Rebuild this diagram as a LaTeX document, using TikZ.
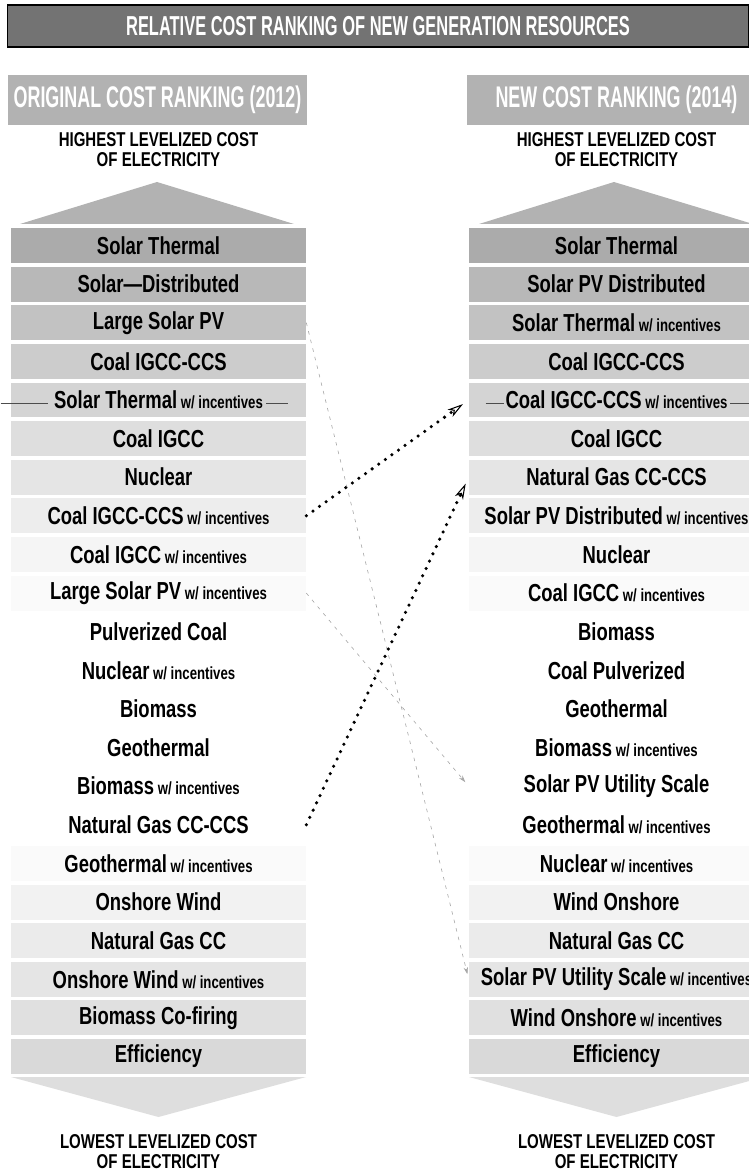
\documentclass[tikz,border=0pt]{standalone}
\usepackage{fontspec}
\usepackage{tikz}
\usetikzlibrary{arrows.meta}

\newfontfamily\rowfont[FakeStretch=0.75]{Liberation Sans}
\newfontfamily\hdfont[FakeStretch=0.6]{Liberation Sans}
\newcommand{\wi}{{\fontsize{10}{10}\selectfont\ w/ incentives}}

\begin{document}
\begin{tikzpicture}[x=0.02cm, y=-0.02cm,
    row/.style={rectangle, minimum width=5.9cm, minimum height=0.7cm, inner sep=0pt, font=\rowfont\bfseries\fontsize{14}{15}\selectfont},
    hdr/.style={rectangle, fill=black!30, minimum width=5.98cm, minimum height=1cm, inner sep=0pt, text=white, font=\hdfont\bfseries\fontsize{17}{18}\selectfont},
    note/.style={align=center, inner sep=0pt, font=\rowfont\bfseries\fontsize{11.4}{11.4}\selectfont},
    rule/.style={draw=black!70, line width=0.5pt},
    dotarrow/.style={line width=2pt, dash pattern=on 0pt off 4.6pt, line cap=round, shorten >=4pt, -{Stealth[open, length=9pt, width=5pt, inset=2.5pt, line width=0.6pt]}},
    faint/.style={draw=black!35, line width=0.35pt, dash pattern=on 2pt off 3pt, shorten >=3pt, -{Stealth[length=4pt, width=2.5pt]}}
]
\useasboundingbox (0,0) rectangle (749,1172);

% Title and column heads
\node[rectangle, fill=black!55, draw=black, line width=1pt, minimum width=14.82cm, minimum height=0.84cm, text=white, font=\hdfont\bfseries\fontsize{15.6}{16}\selectfont] (title) at (378,26) {RELATIVE COST RANKING OF NEW GENERATION RESOURCES};

\node[hdr] (headL) at (157.5,100) {ORIGINAL COST RANKING (2012)};
\node[hdr] (headR) at (616.5,100) {NEW COST RANKING (2014)};

\node[note] (highL) at (158.5,150) {HIGHEST LEVELIZED COST\\OF ELECTRICITY};
\node[note] (highR) at (616.5,150) {HIGHEST LEVELIZED COST\\OF ELECTRICITY};

\fill[black!30] (20,224) -- (157,182) -- (294,224) -- cycle;
\fill[black!30] (479,224) -- (614,182) -- (753,224) -- cycle;

% Original ranking (2012)
\node[row, fill=black!33] (L1) at (158.5,245.5) {Solar Thermal};
\node[row, fill=black!28] (L2) at (158.5,284.1) {Solar—Distributed};
\node[row, fill=black!24] (L3) at (158.5,322.7) {Large Solar PV};
\node[row, fill=black!20] (L4) at (158.5,361.4) {Coal IGCC-CCS};
\node[row, fill=black!17] (L5) at (158.5,400.0) {Solar Thermal\wi};
\node[row, fill=black!13] (L6) at (158.5,438.6) {Coal IGCC};
\node[row, fill=black!10] (L7) at (158.5,477.2) {Nuclear};
\node[row, fill=black!7] (L8) at (158.5,515.8) {Coal IGCC-CCS\wi};
\node[row, fill=black!4] (L9) at (158.5,554.5) {Coal IGCC\wi};
\node[row, fill=black!2] (L10) at (158.5,593.1) {Large Solar PV\wi};
\node[row] (L11) at (158.5,631.7) {Pulverized Coal};
\node[row] (L12) at (158.5,670.3) {Nuclear\wi};
\node[row] (L13) at (158.5,709.0) {Biomass};
\node[row] (L14) at (158.5,747.6) {Geothermal};
\node[row] (L15) at (158.5,786.2) {Biomass\wi};
\node[row] (L16) at (158.5,824.8) {Natural Gas CC-CCS};
\node[row, fill=black!2] (L17) at (158.5,863.4) {Geothermal\wi};
\node[row, fill=black!5] (L18) at (158.5,902.1) {Onshore Wind};
\node[row, fill=black!8] (L19) at (158.5,940.7) {Natural Gas CC};
\node[row, fill=black!10] (L20) at (158.5,979.3) {Onshore Wind\wi};
\node[row, fill=black!12] (L21) at (158.5,1017.9) {Biomass Co-firing};
\node[row, fill=black!15] (L22) at (158.5,1056.5) {Efficiency};

% New ranking (2014)
\node[row, fill=black!33] (R1) at (616.5,245.5) {Solar Thermal};
\node[row, fill=black!28] (R2) at (616.5,284.1) {Solar PV Distributed};
\node[row, fill=black!24] (R3) at (616.5,322.7) {Solar Thermal\wi};
\node[row, fill=black!20] (R4) at (616.5,361.4) {Coal IGCC-CCS};
\node[row, fill=black!17] (R5) at (616.5,400.0) {Coal IGCC-CCS\wi};
\node[row, fill=black!13] (R6) at (616.5,438.6) {Coal IGCC};
\node[row, fill=black!10] (R7) at (616.5,477.2) {Natural Gas CC-CCS};
\node[row, fill=black!7] (R8) at (616.5,515.8) {Solar PV Distributed\wi};
\node[row, fill=black!4] (R9) at (616.5,554.5) {Nuclear};
\node[row, fill=black!2] (R10) at (616.5,593.1) {Coal IGCC\wi};
\node[row] (R11) at (616.5,631.7) {Biomass};
\node[row] (R12) at (616.5,670.3) {Coal Pulverized};
\node[row] (R13) at (616.5,709.0) {Geothermal};
\node[row] (R14) at (616.5,747.6) {Biomass\wi};
\node[row] (R15) at (616.5,786.2) {Solar PV Utility Scale};
\node[row] (R16) at (616.5,824.8) {Geothermal\wi};
\node[row, fill=black!2] (R17) at (616.5,863.4) {Nuclear\wi};
\node[row, fill=black!5] (R18) at (616.5,902.1) {Wind Onshore};
\node[row, fill=black!8] (R19) at (616.5,940.7) {Natural Gas CC};
\node[row, fill=black!10] (R20) at (616.5,979.3) {Solar PV Utility Scale\wi};
\node[row, fill=black!12] (R21) at (616.5,1017.9) {Wind Onshore\wi};
\node[row, fill=black!15] (R22) at (616.5,1056.5) {Efficiency};

\fill[black!13] (11,1077) -- (306,1077) -- (158.5,1117) -- cycle;
\fill[black!13] (469,1077) -- (764,1077) -- (616.5,1117) -- cycle;

\node[note] (lowL) at (158.5,1152) {LOWEST LEVELIZED COST\\OF ELECTRICITY};
\node[note] (lowR) at (616.5,1152) {LOWEST LEVELIZED COST\\OF ELECTRICITY};

% Rules on the w/ incentives rows
\draw[rule] (L5.west) ++(-10,3) -- ++(47,0);
\draw[rule] (L5.east) ++(-40,3) -- ++(22,0);
\draw[rule] (R5.west) ++(17,3) -- ++(18,0);
\draw[rule] (R5.east) ++(-34,3) -- ++(34,0);

% Draw arrows
\draw[faint] (L3.east) -- (R20.west);
\draw[faint] (L10.east) -- (R15.west);
\draw[dotarrow] (L8.east) -- (R5.west);
\draw[dotarrow] (L16.east) -- (R7.west);

\end{tikzpicture}
\end{document}
